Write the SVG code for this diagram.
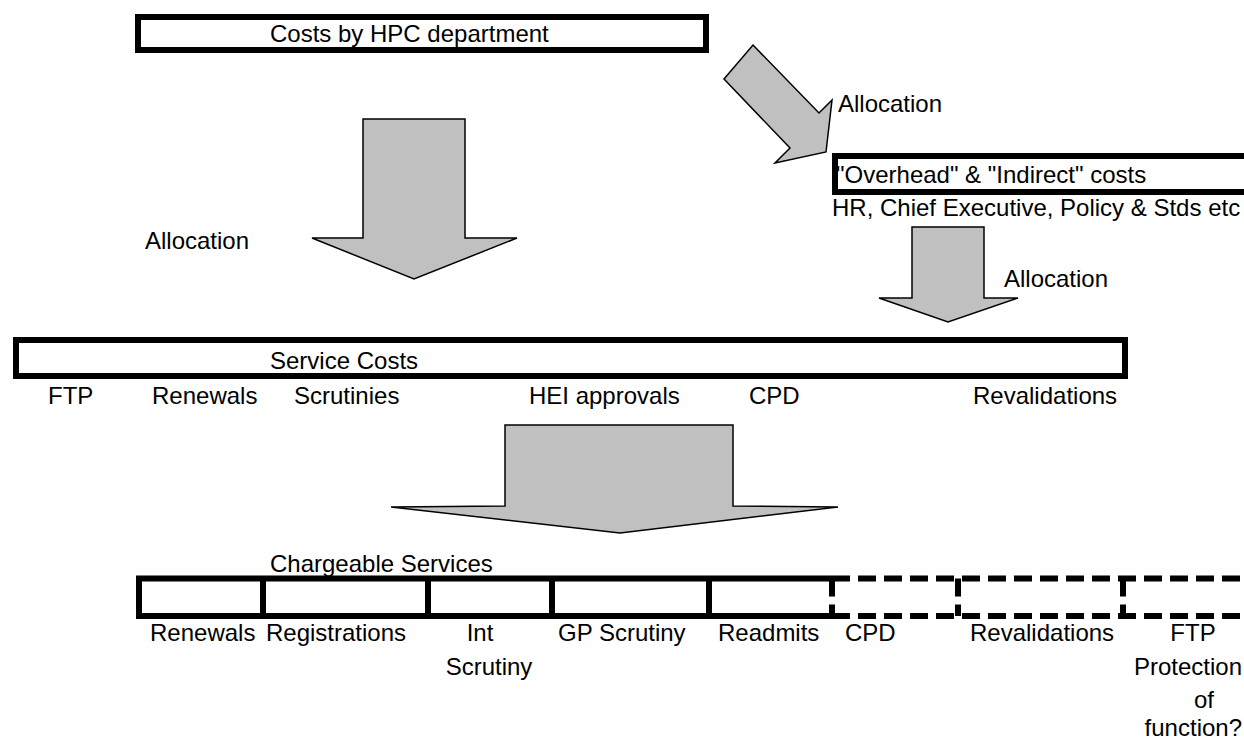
<svg xmlns="http://www.w3.org/2000/svg" width="1244" height="740" viewBox="0 0 1244 740">
<style>
text{font-family:"Liberation Sans",Arial,sans-serif;font-size:24px;fill:#000}
.box{fill:#fff;stroke:#000;stroke-width:6}
.dash{fill:none;stroke:#000;stroke-width:6;stroke-dasharray:18 8}
.arrow{fill:#c0c0c0;stroke:#000;stroke-width:1.5;stroke-linejoin:miter}
.m{text-anchor:middle}
.e{text-anchor:end}
</style>
<rect width="1244" height="740" fill="#fff"/>
<g id="node-hpc">
<rect class="box" x="138" y="17" width="568" height="33"/>
<text x="270" y="42">Costs by HPC department</text>
</g>
<g id="node-overhead">
<rect class="box" x="835" y="156" width="420" height="36"/>
<text x="836" y="183">"Overhead" &amp; "Indirect" costs</text>
<text x="832" y="216">HR, Chief Executive, Policy &amp; Stds etc</text>
</g>
<g id="node-service">
<rect class="box" x="16" y="340" width="1109" height="36"/>
<text x="270" y="369">Service Costs</text>
<text x="48" y="404">FTP</text>
<text x="152" y="404">Renewals</text>
<text x="294" y="404">Scrutinies</text>
<text x="529" y="404">HEI approvals</text>
<text x="749" y="404">CPD</text>
<text x="973" y="404">Revalidations</text>
</g>
<g id="node-chargeable">
<text x="270" y="572">Chargeable Services</text>
<path d="M136 578.5H832M136 616H832M139 578.5V616M263 578.5V616M428 578.5V616M552 578.5V616M709 578.5V616" fill="none" stroke="#000" stroke-width="6"/>
<path class="dash" d="M832 578.5H1244M832 616H1244M832 578.5V616M958 578.5V616M1123 578.5V616"/>
<text x="150" y="641">Renewals</text>
<text x="266" y="641">Registrations</text>
<text class="m" x="480" y="641">Int</text>
<text class="m" x="489" y="675">Scrutiny</text>
<text x="558" y="641">GP Scrutiny</text>
<text x="718" y="641">Readmits</text>
<text x="845" y="641">CPD</text>
<text x="970" y="641">Revalidations</text>
<text class="m" x="1193" y="641">FTP</text>
<text class="e" x="1242" y="675">Protection</text>
<text class="m" x="1204" y="708">of</text>
<text class="e" x="1242" y="736">function?</text>
</g>
<g id="connectors">
<polygon class="arrow" points="753,45 819,113 832,100 826,152 775,163 790,148 724,79"/>
<polygon class="arrow" points="363,119 465,119 465,238 517,238 414,279 312,238 363,238"/>
<polygon class="arrow" points="912,227 984,227 984,298 1018,298 948,322 879,298 912,298"/>
<polygon class="arrow" points="505,425 733,425 733,506 838,507 620,533 391,507 505,506"/>
<text x="838" y="112">Allocation</text>
<text x="145" y="249">Allocation</text>
<text x="1004" y="287">Allocation</text>
</g>
</svg>
